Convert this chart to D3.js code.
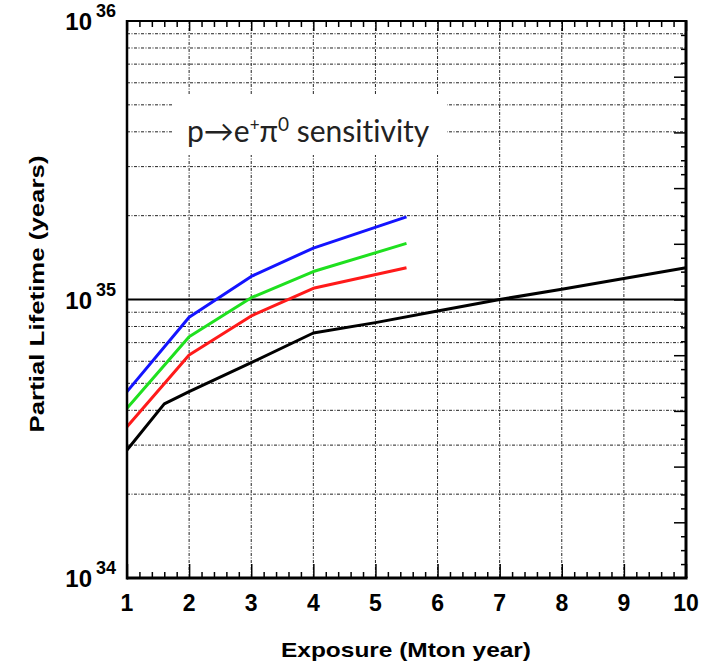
<!DOCTYPE html>
<html>
<head>
<meta charset="utf-8">
<script src="https://cdn.jsdelivr.net/npm/d3@7"></script>
<style>
  body { margin: 0; background: #fff; }
  svg { display: block; }
</style>
</head>
<body>
<div class="container"></div>
<script>
var W = 705, H = 670;
var LEFT = 127, RIGHT = 686, TOP = 21, BOTTOM = 578;

// data
var exposure = [1, 2, 3, 4, 5.5];
var blueLife = [4.67e34, 8.63e34, 1.21e35, 1.53e35, 1.98e35];
var greenLife = [4.07e34, 7.35e34, 1.015e35, 1.26e35, 1.59e35];
var redLife = [3.49e34, 6.32e34, 8.73e34, 1.097e35, 1.30e35];
var blackExposure = [1, 1.6, 2, 3, 4, 5, 6, 7, 8, 9, 10];
var blackLife = [2.88e34, 4.22e34, 4.67e34, 5.93e34, 7.58e34, 8.26e34, 9.1e34, 1.0e35, 1.088e35, 1.19e35, 1.30e35];
var xTicks = [1, 2, 3, 4, 5, 6, 7, 8, 9, 10];
var yDecades = [34, 35, 36];

var series = [
  { color: "#ff1a1a", xs: exposure, ys: redLife },
  { color: "#1fe01f", xs: exposure, ys: greenLife },
  { color: "#1414ff", xs: exposure, ys: blueLife },
  { color: "#000", xs: blackExposure, ys: blackLife }
];

var x = d3.scaleLinear().domain([1, 10]).range([LEFT, RIGHT]);
var y = d3.scaleLog().domain([1e34, 1e36]).range([BOTTOM, TOP]);

var svg = d3.select(".container").append("svg").attr("width", W).attr("height", H);
svg.append("rect").attr("width", W).attr("height", H).attr("fill", "#fff");

// grid
var grid = svg.append("g").attr("stroke", "#222").attr("stroke-width", 1).attr("stroke-dasharray", "3,1.5,1,1.5");
var minor = [];
[34, 35].forEach(function(d){
  for (var k = 2; k <= 9; k++) minor.push(k * Math.pow(10, d));
});
grid.selectAll("line.h").data(minor).enter().append("line")
  .attr("x1", LEFT).attr("x2", RIGHT)
  .attr("y1", function(d){ return y(d); }).attr("y2", function(d){ return y(d); });
grid.selectAll("line.v").data(xTicks.slice(1, -1)).enter().append("line")
  .attr("y1", TOP).attr("y2", BOTTOM)
  .attr("x1", function(d){ return x(d); }).attr("x2", function(d){ return x(d); });

svg.append("line").attr("x1", LEFT).attr("x2", RIGHT)
  .attr("y1", y(1e35)).attr("y2", y(1e35))
  .attr("stroke", "#000").attr("stroke-width", 2);

// white box behind the annotation
svg.append("rect").attr("x", 172).attr("y", 95).attr("width", 275).attr("height", 60).attr("fill", "#fff");

svg.append("text").attr("x", 187).attr("y", 142)
  .attr("font-family", "Lato, 'Open Sans', sans-serif").attr("font-size", 30).attr("fill", "#222")
  .style("font-variant-ligatures", "none")
  .call(function(t){
    t.append("tspan").text("p\u2192e");
    t.append("tspan").attr("font-size", 17).attr("dy", -11).text("+");
    t.append("tspan").attr("dy", 11).text("\u03c0");
    t.append("tspan").attr("font-size", 19).attr("dy", -11).text("0");
    t.append("tspan").attr("dy", 11).text(" sensitivity");
  });

// curves
var line = d3.line()
  .x(function(d){ return x(d[0]); })
  .y(function(d){ return y(d[1]); });
svg.selectAll("path.curve").data(series).enter().append("path")
  .attr("d", function(s){ return line(d3.zip(s.xs, s.ys)); })
  .attr("fill", "none").attr("stroke", function(s){ return s.color; })
  .attr("stroke-width", 3).attr("stroke-linejoin", "round");

// axes
var minorX = d3.range(1, 10.01, 0.2).map(function(v){ return Math.round(v * 10) / 10; });
var isMajor = function(v){ return Math.abs(v - Math.round(v)) < 1e-6; };

var bottomAxis = svg.append("g").attr("transform", "translate(0," + BOTTOM + ")")
  .call(d3.axisTop(x).tickValues(minorX).tickFormat("").tickSizeOuter(0));
bottomAxis.selectAll(".tick line").attr("y2", function(d){ return isMajor(d) ? -14 : -6; }).attr("stroke-width", 1.5);
bottomAxis.select(".domain").remove();

var topAxis = svg.append("g").attr("transform", "translate(0," + TOP + ")")
  .call(d3.axisBottom(x).tickValues(minorX).tickFormat("").tickSizeOuter(0));
topAxis.selectAll(".tick line").attr("y2", function(d){ return isMajor(d) ? 10 : 6; }).attr("stroke-width", 1.5);
topAxis.select(".domain").remove();

var yr = d3.scaleLinear().domain([0, 40]).range([BOTTOM, TOP]);
var rightAxis = svg.append("g").attr("transform", "translate(" + RIGHT + ",0)")
  .call(d3.axisLeft(yr).tickValues(d3.range(1, 40)).tickFormat("").tickSizeOuter(0));
rightAxis.selectAll(".tick line").attr("x2", function(d){ return d % 4 === 0 ? -12 : -5; }).attr("stroke-width", 1.5);
rightAxis.select(".domain").remove();

// x tick labels
svg.selectAll("text.xl").data(xTicks).enter().append("text")
  .attr("x", function(d){ return x(d); }).attr("y", 611)
  .attr("text-anchor", "middle")
  .attr("font-family", "'Liberation Sans', Arial, sans-serif").attr("font-weight", "bold").attr("font-size", 23)
  .text(function(d){ return d; });

// y labels 10^n
var yl = svg.selectAll("g.yl").data(yDecades).enter().append("g")
  .attr("font-family", "'Liberation Sans', Arial, sans-serif").attr("font-weight", "bold");
yl.append("text").attr("x", 92).attr("y", function(d){ return y(Math.pow(10, d)) + 9; })
  .attr("text-anchor", "end").attr("font-size", 24).text("10");
yl.append("text").attr("x", 96).attr("y", function(d){ return y(Math.pow(10, d)) - 4; })
  .attr("font-size", 18).text(function(d){ return d; });

// frame
var frame = svg.append("g").attr("stroke", "#000").attr("fill", "none");
frame.append("line").attr("x1", LEFT).attr("x2", RIGHT).attr("y1", TOP).attr("y2", TOP).attr("stroke-width", 2);
frame.append("line").attr("x1", LEFT).attr("x2", RIGHT + 1.5).attr("y1", BOTTOM).attr("y2", BOTTOM).attr("stroke-width", 3);
frame.append("line").attr("x1", LEFT).attr("x2", LEFT).attr("y1", TOP - 1).attr("y2", BOTTOM + 1.5).attr("stroke-width", 2.5);
frame.append("line").attr("x1", RIGHT).attr("x2", RIGHT).attr("y1", TOP - 1).attr("y2", BOTTOM).attr("stroke-width", 3);

// axis titles
svg.append("text").attr("x", 406).attr("y", 657).attr("text-anchor", "middle")
  .attr("font-family", "'Liberation Sans', Arial, sans-serif").attr("font-weight", "bold").attr("font-size", 21)
  .attr("textLength", 250).attr("lengthAdjust", "spacingAndGlyphs")
  .text("Exposure (Mton year)");
svg.append("text").attr("transform", "translate(44,294) rotate(-90)").attr("text-anchor", "middle")
  .attr("font-family", "'Liberation Sans', Arial, sans-serif").attr("font-weight", "bold").attr("font-size", 21)
  .attr("textLength", 277).attr("lengthAdjust", "spacingAndGlyphs")
  .text("Partial Lifetime (years)");
</script>
</body>
</html>
